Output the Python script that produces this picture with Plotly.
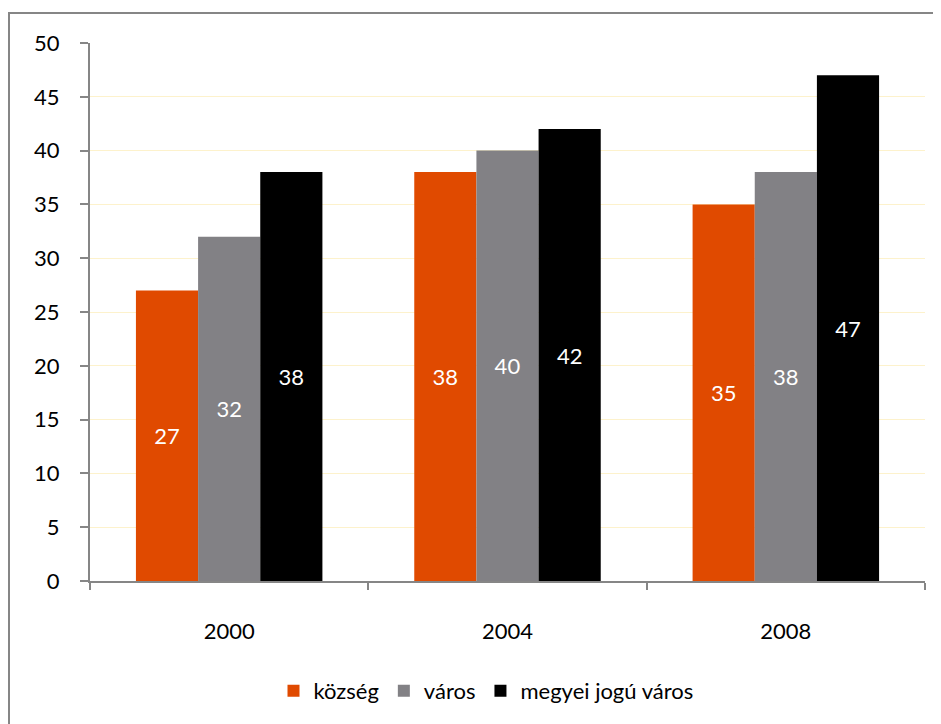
import plotly.graph_objects as go

years = ["2000", "2004", "2008"]
kozseg = [27, 38, 35]
varos = [32, 40, 38]
megyei = [38, 42, 47]

series = [
    ("község", kozseg, "#E04A00"),
    ("város", varos, "#828185"),
    ("megyei jogú város", megyei, "#000000"),
]

FONT = "Lato"
AX = "#868686"
W, H = 933, 716
L, R, T, B = 82, 16, 35, 143
PW, PH = W - L - R, H - T - B

fig = go.Figure()
for name, vals, col in series:
    fig.add_trace(go.Bar(
        x=years, y=vals, name=name, marker=dict(color=col, line=dict(width=0)),
        text=vals, texttemplate="%{text}", textposition="inside",
        insidetextanchor="middle", textangle=0,
        textfont=dict(color="white", size=22, family=FONT),
    ))

fig.update_layout(
    width=W, height=H,
    margin=dict(l=L, r=R, t=T, b=B),
    paper_bgcolor="white", plot_bgcolor="white",
    barmode="group", bargap=0.33, bargroupgap=0,
    font=dict(family=FONT, size=22, color="black"),
    showlegend=True,
    legend=dict(orientation="h", x=(478 - L) / PW, xanchor="center",
                y=(H - B - 683) / PH, yanchor="middle",
                font=dict(size=22), itemwidth=30, traceorder="normal"),
    uniformtext=dict(mode=False),
)
fig.update_xaxes(type="category", showline=True, linecolor=AX, linewidth=2,
                 ticks="outside", tickson="boundaries", ticklen=7, tickcolor=AX,
                 tickwidth=2, showgrid=False, tickfont=dict(size=22),
                 ticklabelstandoff=30)
fig.update_yaxes(range=[0, 50], dtick=5, showline=True, linecolor=AX, linewidth=2,
                 ticks="outside", ticklen=8, tickcolor=AX, tickwidth=2,
                 showgrid=True, gridcolor="#FDF2CC", gridwidth=1,
                 zeroline=False, tickfont=dict(size=22), ticklabelstandoff=16)

fig.add_shape(type="rect", xref="paper", yref="paper",
              x0=(1 - L) / PW, x1=1.2, y0=-0.4, y1=(H - B - 5) / PH,
              line=dict(color=AX, width=2), fillcolor="rgba(0,0,0,0)", layer="below")

fig.write_html("out.html")
